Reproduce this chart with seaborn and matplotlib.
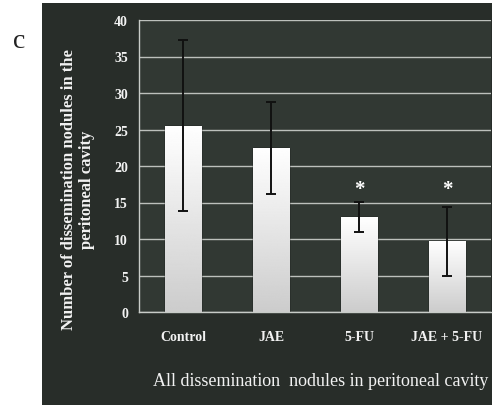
import numpy as np
import pandas as pd
import matplotlib
matplotlib.use("Agg")
import matplotlib.pyplot as plt
from matplotlib.patches import Rectangle
import seaborn as sns

# Data: mean number of dissemination nodules and error bar half-widths
groups = ["Control", "JAE", "5-FU", "JAE + 5-FU"]
means = [25.5, 22.5, 13.0, 9.7]
errors = [11.7, 6.3, 2.1, 4.7]
significant = [False, False, True, True]
y_ticks = [0, 5, 10, 15, 20, 25, 30, 35, 40]
star_level = 16.8

df = pd.DataFrame({"group": groups, "mean": means})

sns.set_theme(style="dark")
plt.rcParams["font.family"] = ["Liberation Serif", "DejaVu Serif"]

panel_color = "#282d29"
plot_color = "#313833"
text_color = "#f2f2f2"

fig = plt.figure(figsize=(4.99, 4.10), dpi=100, facecolor="white")
# dark backdrop behind the chart
fig.patches.append(Rectangle((42 / 499, 4 / 410), 450 / 499, 402 / 410,
                             transform=fig.transFigure, facecolor=panel_color,
                             edgecolor="none", zorder=-10))

ax = fig.add_axes([139 / 499, 97 / 410, 352 / 499, 292 / 410])
ax.set_facecolor(plot_color)

sns.barplot(data=df, x="group", y="mean", ax=ax, width=0.41,
            color="white", edgecolor="#111111", linewidth=1.0, zorder=3)

# soft vertical gradient inside each bar
grad = np.linspace(0.80, 1.0, 256).reshape(-1, 1)
for patch in ax.patches:
    x0, y0 = patch.get_x(), patch.get_y()
    w, h = patch.get_width(), patch.get_height()
    im = ax.imshow(grad, extent=(x0, x0 + w, y0, y0 + h), origin="lower",
                   cmap="gray", vmin=0, vmax=1, aspect="auto", zorder=3.5)
    im.set_clip_path(patch)

ax.errorbar(x=np.arange(len(groups)), y=means, yerr=errors, fmt="none",
            ecolor="#111111", elinewidth=1.4, capsize=3.5, capthick=1.4, zorder=5)

# significance markers
for i, sig in enumerate(significant):
    if sig:
        ax.text(i, star_level, "*", ha="center", va="center", color="white",
                fontsize=15, fontweight="bold", zorder=6)

ax.set_ylim(0, 40)
ax.set_xlim(-0.5, 3.5)
ax.set_yticks(y_ticks)
ax.yaxis.grid(True, color="#bcc0bc", linewidth=1.0, zorder=0)
ax.xaxis.grid(False)
ax.set_axisbelow(True)

for side in ["top", "right"]:
    ax.spines[side].set_visible(False)
for side in ["left", "bottom"]:
    ax.spines[side].set_visible(True)
    ax.spines[side].set_color("#c8ccc8")
    ax.spines[side].set_linewidth(1.0)

ax.tick_params(axis="both", length=0, colors=text_color, labelsize=10)
ax.tick_params(axis="y", pad=8)
ax.tick_params(axis="x", pad=13)
for lbl in ax.get_xticklabels() + ax.get_yticklabels():
    lbl.set_fontweight("bold")

ax.set_xlabel("")
ax.set_ylabel("")

fig.text(78 / 499, 1 - 190 / 410,
         "Number of dissemination nodules in the\nperitoneal cavity",
         rotation=90, ha="center", va="center", color=text_color,
         fontsize=12, fontweight="bold", linespacing=1.15)
fig.text(321 / 499, 1 - 382 / 410,
         "All dissemination  nodules in peritoneal cavity",
         ha="center", va="center", color=text_color, fontsize=13)
fig.text(19.5 / 499, 1 - 41 / 410, "c", ha="center", va="center",
         color="#222222", fontsize=20)

fig.savefig("out.png", dpi=100, facecolor="white")
